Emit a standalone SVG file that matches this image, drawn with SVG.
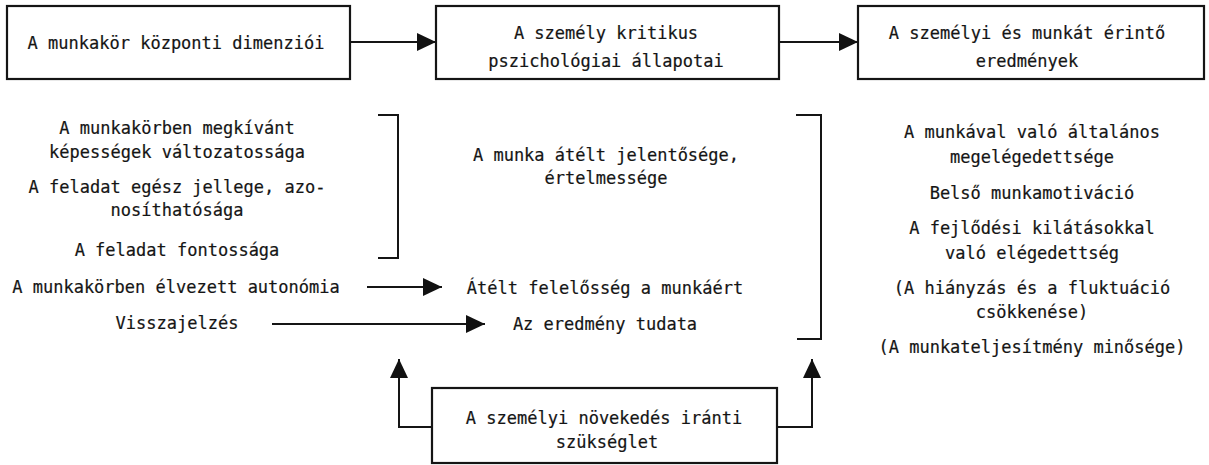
<svg xmlns="http://www.w3.org/2000/svg" width="1209" height="465" viewBox="0 0 1209 465">
<defs>
<marker id="ah" markerUnits="userSpaceOnUse" markerWidth="20" markerHeight="20" viewBox="0 0 20 20" refX="19" refY="10" orient="auto">
<path d="M0,1 L19,10 L0,19 Z" fill="#111"/>
</marker>
</defs>
<style>
text{font-family:"DejaVu Sans Mono","Liberation Mono",monospace;font-size:17px;fill:#151515;text-anchor:middle;stroke:#151515;stroke-width:0.2}
.box{fill:#fff;stroke:#151515;stroke-width:2.2}
.ln{fill:none;stroke:#151515;stroke-width:2}
.arr{fill:none;stroke:#151515;stroke-width:2;marker-end:url(#ah)}
</style>
<rect width="1209" height="465" fill="#fff"/>
<g id="connectors">
<line class="arr" x1="351" y1="42" x2="436" y2="42"/>
<line class="arr" x1="780" y1="42" x2="858" y2="42"/>
<line class="arr" x1="367" y1="287" x2="442" y2="287"/>
<line class="arr" x1="272" y1="324" x2="485" y2="324"/>
<polyline class="arr" points="432,427 399,427 399,359"/>
<polyline class="arr" points="777,427 812,427 812,359"/>
<polyline class="ln" points="378,115 398,115 398,258 378,258"/>
<polyline class="ln" points="796,115 821,115 821,339 797,339"/>
</g>
<g id="node-dimensions">
<rect class="box" x="7" y="6" width="343" height="73"/>
<text x="176" y="49">A munkakör központi dimenziói</text>
</g>
<g id="node-states">
<rect class="box" x="436" y="6" width="343" height="73"/>
<text x="606" y="39">A személy kritikus</text>
<text x="606" y="67">pszichológiai állapotai</text>
</g>
<g id="node-outcomes">
<rect class="box" x="858" y="6" width="346" height="73"/>
<text x="1027" y="39">A személyi és munkát érintő</text>
<text x="1027" y="67">eredmények</text>
</g>
<g id="node-dimension-list">
<text x="177" y="134">A munkakörben megkívánt</text>
<text x="177" y="158">képességek változatossága</text>
<text x="177" y="193">A feladat egész jellege, azo-</text>
<text x="177" y="216">nosíthatósága</text>
<text x="177" y="256">A feladat fontossága</text>
<text x="176" y="293">A munkakörben élvezett autonómia</text>
<text x="177" y="329">Visszajelzés</text>
</g>
<g id="node-state-list">
<text x="606" y="161">A munka átélt jelentősége,</text>
<text x="606" y="184">értelmessége</text>
<text x="605" y="294">Átélt felelősség a munkáért</text>
<text x="605" y="330">Az eredmény tudata</text>
</g>
<g id="node-outcome-list">
<text x="1032" y="138">A munkával való általános</text>
<text x="1032" y="163">megelégedettsége</text>
<text x="1032" y="199">Belső munkamotiváció</text>
<text x="1032" y="234">A fejlődési kilátásokkal</text>
<text x="1032" y="259">való elégedettség</text>
<text x="1032" y="294">(A hiányzás és a fluktuáció</text>
<text x="1032" y="318">csökkenése)</text>
<text x="1032" y="353">(A munkateljesítmény minősége)</text>
</g>
<g id="node-growth-need">
<rect class="box" x="432" y="388" width="345" height="75"/>
<text x="604" y="424">A személyi növekedés iránti</text>
<text x="607" y="448">szükséglet</text>
</g>
</svg>
